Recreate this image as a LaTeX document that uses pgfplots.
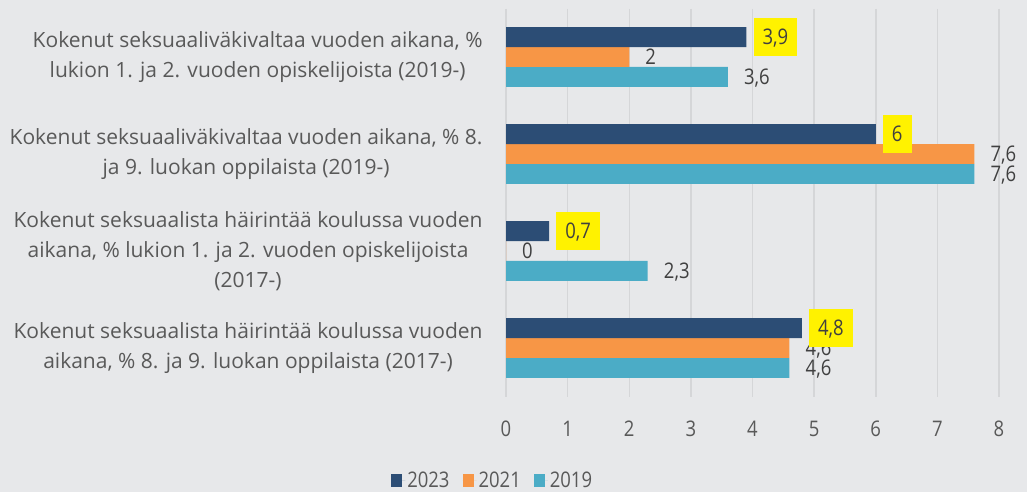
\documentclass[border=0pt]{standalone}
\usepackage{pgfplots}
\usepackage{pgfplotstable}
\pgfplotsset{compat=1.18}
\usepackage{fontspec}
\setmainfont{Open Sans}
\newfontfamily\numfont{Open Sans}[FakeStretch=0.86]
\definecolor{bg}{RGB}{231,232,234}
\definecolor{c23}{RGB}{44,77,117}
\definecolor{c21}{RGB}{247,150,70}
\definecolor{c19}{RGB}{75,172,198}
\definecolor{gridc}{RGB}{213,214,216}
\definecolor{txt}{RGB}{89,89,89}
\definecolor{lbl}{RGB}{64,64,64}
\pgfplotstableread{
y v23 v21 v19
0 3.9 2 3.6
1 6 7.6 7.6
2 0.7 0 2.3
3 4.8 4.6 4.6
}\datatable
\begin{document}
\begin{tikzpicture}
\fill[bg] (0,0) rectangle (1027bp,492bp);
\useasboundingbox (0,0) rectangle (1027bp,492bp);
\begin{axis}[
  at={(506bp,95.5bp)}, anchor=south west,
  scale only axis, width=493bp, height=388bp,
  xbar, bar width=0.206,
  xmin=0, xmax=8, ymin=-0.5, ymax=3.5, y dir=reverse,
  clip=false,
  axis line style={draw=none},
  xmajorgrids, major grid style={color=gridc, line width=1.5bp},
  xtick={0,...,8}, ytick={0,1,2,3},
  tick style={draw=none},
  /pgf/number format/assume math mode=true,
  /pgf/number format/use comma,
  font=\fontsize{21bp}{30bp}\selectfont,
  xticklabel style={anchor=base, yshift=-39.5bp, text=txt, inner sep=0pt, font=\fontsize{21.5bp}{30bp}\numfont},
  yticklabel style={anchor=east, align=center, inner sep=0pt, xshift=-19bp, text=txt},
  yticklabels={{Kokenut seksuaaliväkivaltaa vuoden aikana, \%\\lukion 1. ja 2. vuoden opiskelijoista (2019-)},
    {Kokenut seksuaaliväkivaltaa vuoden aikana, \% 8.\\ja 9. luokan oppilaista (2019-)},
    {Kokenut seksuaalista häirintää koulussa vuoden\\aikana, \% lukion 1. ja 2. vuoden opiskelijoista\\(2017-)},
    {Kokenut seksuaalista häirintää koulussa vuoden\\aikana, \% 8. ja 9. luokan oppilaista (2017-)}},
  nodes near coords,
  every node near coord/.append style={anchor=west, text=lbl, inner sep=0pt, xshift=16bp, text height=19bp, text depth=4bp, font=\fontsize{21.5bp}{30bp}\numfont},
  legend columns=3, reverse legend,
  legend style={draw=none, fill=none, at={(-0.027,-0.216)}, anchor=center,
    text=txt, font=\fontsize{21.5bp}{30bp}\numfont,
    /tikz/every even column/.append style={column sep=11bp},
    nodes={inner sep=2bp}},
  legend image code/.code={\path (0bp,0bp) -- (14bp,0bp); \fill[#1] (0bp,-6.5bp) rectangle (11bp,6.5bp);},
]
\addplot[fill=c19, draw=none, bar shift=0.206] table[x=v19, y=y] \datatable;
\addlegendentry{2019}
\addplot[fill=c21, draw=none, bar shift=0] table[x=v21, y=y] \datatable;
\addlegendentry{2021}
\addplot[fill=c23, draw=none, bar shift=-0.206,
  every node near coord/.append style={fill=yellow, inner xsep=9bp, inner ysep=7.5bp, xshift=-9bp}]
  table[x=v23, y=y] \datatable;
\addlegendentry{2023}
\end{axis}
\end{tikzpicture}
\end{document}
